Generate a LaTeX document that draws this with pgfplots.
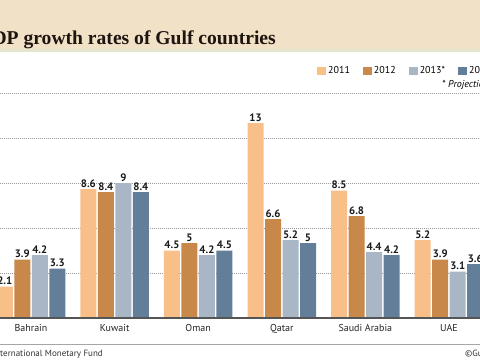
\documentclass[border=0pt]{standalone}
\usepackage{fontspec}
\setmainfont{PT Sans}
\newfontfamily\titlefont{Liberation Serif}
\usepackage{pgfplots}
\pgfplotsset{compat=1.18}
\definecolor{cA}{HTML}{F8BF88}
\definecolor{cB}{HTML}{C8884A}
\definecolor{cC}{HTML}{A9B6C6}
\definecolor{cD}{HTML}{627E99}
\definecolor{beige}{HTML}{F1E1C6}
\definecolor{bandline}{HTML}{E4E6CE}
\definecolor{titlecol}{HTML}{1E1410}
\definecolor{basecol}{HTML}{555555}
\definecolor{gridcol}{HTML}{9A9A9A}
\begin{document}
\begin{tikzpicture}[x=1pt,y=1pt]
\path[use as bounding box] (0,0) rectangle (480,360);
\clip (0,0) rectangle (480,360);
\fill[white] (0,0) rectangle (480,360);
\fill[beige] (0,311) rectangle (480,360);
\fill[bandline] (0,308.5) rectangle (480,311);
\node[anchor=base east, font=\titlefont\bfseries\fontsize{19.6}{21}\selectfont, text=titlecol, inner sep=0pt] at (276,316) {GDP growth rates of Gulf countries};
\begin{axis}[
  overlay,
  at={(31pt,42pt)}, anchor=origin,
  width=480pt, height=225pt, scale only axis,
  xmin=-0.371, xmax=5.371, ymin=0, ymax=15,
  clip=false,
  axis line style={draw=none},
  major tick length=0pt,
  ytick={3,6,9,12,15}, yticklabels={},
  ymajorgrids,
  grid style={gridcol, line width=0.7pt, dash pattern=on 0.7pt off 1.3pt},
  xtick={0,1,2,3,4,5},
  xticklabels={Bahrain,Kuwait,Oman,Qatar,Saudi Arabia,UAE},
  xticklabel style={anchor=base, inner sep=0pt, yshift=-13pt, font=\fontsize{10}{12}\selectfont, text=black!85},
  ybar=1.5pt, bar width=16pt,
  nodes near coords,
  /pgf/number format/assume math mode=true,
  every node near coord/.append style={font=\bfseries\fontsize{10.8}{11}\selectfont, text=black!90, inner sep=1pt, yshift=0.5pt},
  legend columns=4,
  legend style={draw=none, fill=none, at={(0.6604,1.0978)}, anchor=west, inner sep=0pt,
    font=\fontsize{10}{11}\selectfont,
    /tikz/every even column/.append style={column sep=11pt}},
  legend image code/.code={\fill[#1] (0pt,-4pt) rectangle (9pt,4pt);},
]
\addplot[fill=cA, draw=none] coordinates {(0,2.1) (1,8.6) (2,4.5) (3,13) (4,8.5) (5,5.2)};
\addplot[fill=cB, draw=none] coordinates {(0,3.9) (1,8.4) (2,5) (3,6.6) (4,6.8) (5,3.9)};
\addplot[fill=cC, draw=none] coordinates {(0,4.2) (1,9) (2,4.2) (3,5.2) (4,4.4) (5,3.1)};
\addplot[fill=cD, draw=none] coordinates {(0,3.3) (1,8.4) (2,4.5) (3,5) (4,4.2) (5,3.6)};
\legend{2011,2012,2013*,2014}
\end{axis}
\draw[basecol, line width=1.3pt] (0,42) -- (480,42);
\draw[gray!70, line width=0.8pt] (0,16) -- (480,16);
\node[anchor=base west, inner sep=0pt, font=\itshape\fontsize{10}{11}\selectfont] at (442,273) {* Projections};
\node[anchor=base east, inner sep=0pt, font=\fontsize{9}{11}\selectfont, text=black!80] at (103,4) {Source: International Monetary Fund};
\node[anchor=base west, inner sep=0pt, font=\fontsize{9}{11}\selectfont, text=black!80] at (465,4) {©Gulf News};
\end{tikzpicture}
\end{document}
